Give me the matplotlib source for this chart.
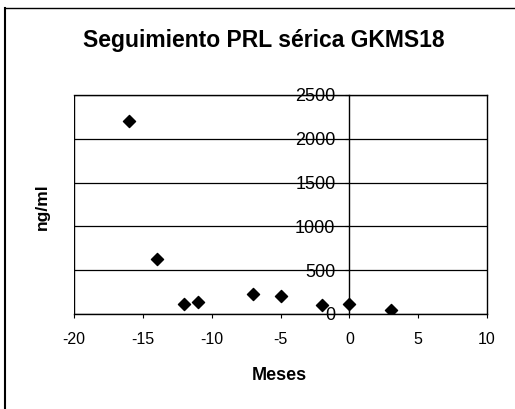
import matplotlib
matplotlib.use("Agg")
import matplotlib.pyplot as plt
from matplotlib.lines import Line2D

# data
meses = [-16, -14, -12, -11, -7, -5, -2, 0, 3]
prl = [2200, 630, 115, 135, 225, 210, 105, 115, 45]

x_ticks = [-20, -15, -10, -5, 0, 5, 10]
y_ticks = [0, 500, 1000, 1500, 2000, 2500]

title = "Seguimiento PRL sérica GKMS18"
x_label = "Meses"
y_label = "ng/ml"

plt.rcParams['font.family'] = ['Liberation Sans', 'DejaVu Sans']
plt.rcParams['axes.unicode_minus'] = False

fig = plt.figure(figsize=(5.15, 4.09), dpi=100)
ax = fig.add_axes([0.1437, 0.2323, 0.802, 0.5355])

ax.scatter(meses, prl, marker='D', s=38, color='black', zorder=5)

ax.set_xlim(-20, 10)
ax.set_ylim(0, 2500)
ax.set_xticks(x_ticks)
ax.set_yticks(y_ticks)

# y axis crosses at x = 0, like the Excel original
ax.spines['left'].set_position(('data', 0))
for s in ['left', 'bottom', 'right', 'top']:
    ax.spines[s].set_linewidth(1.0)
    ax.spines[s].set_color('black')
ax.axvline(-20, color='black', lw=1.0)

ax.yaxis.grid(True, color='black', lw=0.9)
ax.set_axisbelow(True)

ax.tick_params(axis='x', direction='out', length=3, width=0.8, labelsize=11.5, pad=10)
ax.tick_params(axis='y', direction='out', length=3, width=0.8, labelsize=13, pad=7)
for lab in ax.get_yticklabels():
    lab.set_zorder(6)

fig.text(0.512, 0.902, title, ha='center', va='center', fontsize=16.5, fontweight='bold')
fig.text(0.542, 0.081, x_label, ha='center', va='center', fontsize=13, fontweight='bold')
fig.text(0.082, 0.494, y_label, ha='center', va='center', fontsize=12.5, fontweight='bold', rotation=90)

# chart-area frame (left and top edges visible in the scan)
fig.add_artist(Line2D([0.01, 0.01], [0.0, 0.98], color='black', lw=1.5, transform=fig.transFigure))
fig.add_artist(Line2D([0.01, 1.0], [0.98, 0.98], color='black', lw=1.0, transform=fig.transFigure))

fig.savefig("out.png", dpi=100)
